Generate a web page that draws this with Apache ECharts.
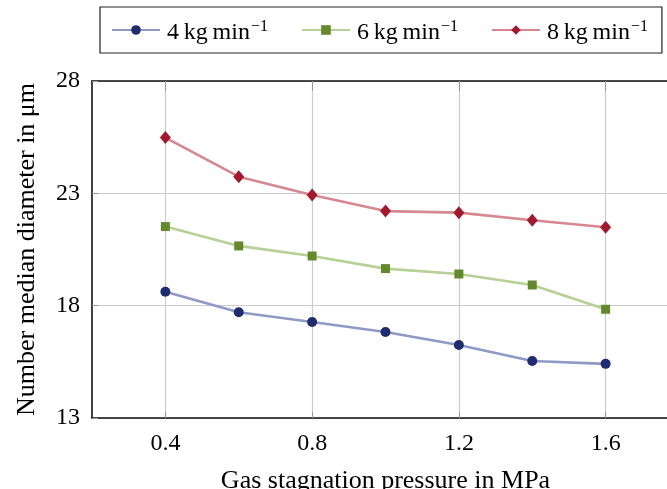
<!DOCTYPE html>
<html>
<head>
<meta charset="utf-8">
<script src="https://cdn.jsdelivr.net/npm/echarts@6/dist/echarts.min.js"></script>
<style>
  html, body { margin: 0; padding: 0; background: #fff; }
  #chart { width: 667px; height: 489px; }
</style>
</head>
<body>
<div id="chart"></div>
<script>
// Gas stagnation pressure (MPa) at which each sample was taken
const pressures = [0.4, 0.6, 0.8, 1.0, 1.2, 1.4, 1.6];

// Number median diameter (µm) for each powder feed rate
const feed4 = [18.62, 17.71, 17.27, 16.83, 16.25, 15.54, 15.41];
const feed6 = [21.52, 20.66, 20.21, 19.65, 19.41, 18.92, 17.84];
const feed8 = [25.48, 23.74, 22.93, 22.21, 22.14, 21.80, 21.49];

const seriesNames = ['4\u2009kg\u2009min', '6\u2009kg\u2009min', '8\u2009kg\u2009min'];

// Tick values
const xTicks = [0.4, 0.8, 1.2, 1.6];
const yTicks = [13, 18, 23, 28];

const FONT = '"Liberation Serif", "Times New Roman", serif';

function pairs(ys) {
  return pressures.map((p, i) => [p, ys[i]]);
}

const styles = [
  { line: '#8e99c6', mark: '#1f2c6f', symbol: 'circle', size: 10 },
  { line: '#b6d095', mark: '#62892c', symbol: 'rect', size: 9 },
  { line: '#d58890', mark: '#a3182c', symbol: 'diamond', size: [11, 13] }
];

const dataSets = [feed4, feed6, feed8];

const chart = echarts.init(document.getElementById('chart'), null, { renderer: 'canvas' });

const axisCommon = {
  type: 'value',
  axisLine: { show: true, lineStyle: { color: '#111', width: 1.6 } },
  axisTick: { show: true, inside: true, length: 6, lineStyle: { color: '#999', width: 1 } },
  splitLine: { show: true, lineStyle: { color: '#cccccc', width: 1.2 } }
};

// The plot box is wider than the canvas; its right part is cut off.
const X_MIN = 0.2;
const X_MAX = 1.8;

chart.setOption({
  animation: false,
  backgroundColor: '#ffffff',
  grid: { left: 92, top: 81, width: 587, height: 337, containLabel: false, outerBoundsMode: 'none' },
  legend: {
    left: 100,
    top: 7,
    padding: [8, 14, 8, 11],
    borderColor: '#222',
    borderWidth: 1.2,
    itemWidth: 48,
    itemHeight: 12,
    itemGap: 33,
    data: seriesNames,
    formatter: name => '{b|' + name + '}{s|\u22121}',
    textStyle: {
      fontFamily: FONT,
      fontSize: 24,
      color: '#000',
      padding: [0, 0, 0, 2],
      rich: {
        b: { fontFamily: FONT, fontSize: 24, color: '#000', lineHeight: 30, verticalAlign: 'bottom' },
        s: { fontFamily: FONT, fontSize: 16, color: '#000', lineHeight: 30, verticalAlign: 'top', padding: [4, 0, 0, 1] }
      }
    }
  },
  xAxis: [
    Object.assign({}, axisCommon, {
      position: 'bottom',
      min: X_MIN,
      max: X_MAX,
      name: 'Gas stagnation pressure in MPa',
      nameLocation: 'middle',
      nameGap: 50,
      nameTextStyle: { fontFamily: FONT, fontSize: 26, color: '#000' },
      axisTick: Object.assign({}, axisCommon.axisTick, { customValues: xTicks }),
      axisLabel: {
        customValues: xTicks,
        margin: 14,
        fontFamily: FONT,
        fontSize: 24,
        color: '#000',
        formatter: v => v.toFixed(1)
      }
    }),
    Object.assign({}, axisCommon, {
      position: 'top',
      min: X_MIN,
      max: X_MAX,
      axisTick: Object.assign({}, axisCommon.axisTick, { customValues: xTicks, length: 10 }),
      axisLabel: { show: false, customValues: xTicks },
      splitLine: { show: false }
    })
  ],
  yAxis: Object.assign({}, axisCommon, {
    min: 13,
    max: 28,
    name: 'Number median diameter in \u03bcm',
    nameLocation: 'middle',
    nameGap: 52,
    nameTextStyle: { fontFamily: FONT, fontSize: 26, color: '#000' },
    axisTick: Object.assign({}, axisCommon.axisTick, { customValues: yTicks }),
    axisLabel: {
      customValues: yTicks,
      margin: 12,
      fontFamily: FONT,
      fontSize: 24,
      color: '#000'
    }
  }),
  series: dataSets.map((ys, i) => ({
    name: seriesNames[i],
    type: 'line',
    xAxisIndex: 0,
    data: pairs(ys),
    symbol: styles[i].symbol,
    symbolSize: styles[i].size,
    showAllSymbol: true,
    lineStyle: { color: styles[i].line, width: 2.6 },
    itemStyle: { color: styles[i].mark, borderWidth: 0 },
    emphasis: { disabled: true },
    z: 3 + i
  }))
});
</script>
</body>
</html>
